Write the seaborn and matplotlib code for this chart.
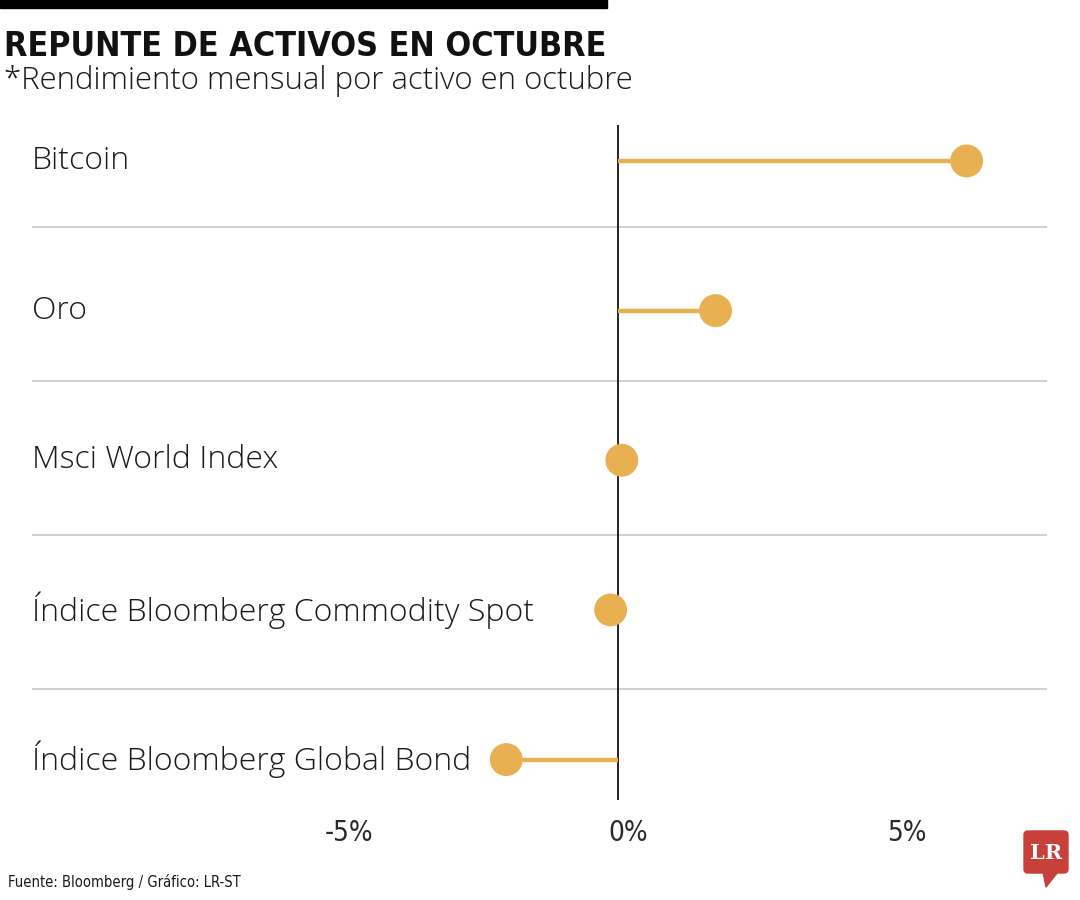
import numpy as np
import matplotlib.pyplot as plt
import matplotlib.patches as mpatches
import matplotlib.transforms as mtransforms
import pandas as pd
import seaborn as sns

# Data (monthly return in October, %)
activos = ['Bitcoin', 'Oro', 'Msci World Index',
           'Índice Bloomberg Commodity Spot', 'Índice Bloomberg Global Bond']
rendimiento = [6.25, 1.75, 0.07, -0.13, -2.0]
ticks = [-5, 0, 5]
tick_labels = ['-5%', '0%', '5%']

df = pd.DataFrame({'activo': activos, 'valor': rendimiento})
df['pos'] = np.arange(len(df))

gold = '#E8B050'
sns.set_theme(style='white')
plt.rcParams['font.family'] = ['Open Sans', 'DejaVu Sans']
cond = dict(family=['DejaVu Sans'], fontstretch='condensed')

fig = plt.figure(figsize=(10.8, 9), dpi=100)
ax = fig.add_axes([32/1080, 1 - 800/900, 1015/1080, 675/900])

# stems from zero
ax.hlines(df['pos'], 0, df['valor'], color=gold, lw=3.2, zorder=2)
sns.scatterplot(data=df, x='valor', y='pos', ax=ax, s=560, color=gold,
                edgecolor='none', zorder=3, legend=False)

ax.axvline(0, color='black', lw=1.2, zorder=1)
for i in range(len(activos) - 1):
    ax.axhline(0.44 + 1.03 * i, color='#c8c8c8', lw=1.2, zorder=0)

ax.set_xlim(-10.5, 7.69)
ax.set_ylim(4.27, -0.24)

# row labels
for p, name in zip(df['pos'], df['activo']):
    ax.text(0, p, name, transform=ax.get_yaxis_transform(), ha='left',
            va='center', fontsize=23, color='#1a1a1a', fontweight='light')

# x tick labels (drawn as text, nudged right like the original)
ax.set_xticks(ticks)
ax.set_xticklabels([])
ax.tick_params(axis='x', length=0)
off = mtransforms.ScaledTranslation(10/100, 0, fig.dpi_scale_trans)
for t, lab in zip(ticks, tick_labels):
    ax.text(t, -33/675, lab, transform=ax.get_xaxis_transform() + off,
            ha='center', va='center', fontsize=20, color='#2a2a2a', **cond)
ax.set_yticks([])
ax.set_xlabel('')
ax.set_ylabel('')
sns.despine(ax=ax, left=True, bottom=True)

# header
fig.add_artist(mpatches.Rectangle((0, 1 - 8/900), 607/1080, 8/900,
                                  transform=fig.transFigure, color='black'))
fig.text(4/1080, 1 - 47/900, 'REPUNTE DE ACTIVOS EN OCTUBRE', fontsize=24.4,
         fontweight='bold', va='center', ha='left', color='#111111', **cond)
fig.text(4/1080, 1 - 81/900, '*Rendimiento mensual por activo en octubre',
         fontsize=22.4, va='center', ha='left', color='#1a1a1a', fontweight='light')

# footer
fig.text(8/1080, 1 - 882/900, 'Fuente: Bloomberg / Gráfico: LR-ST', fontsize=10.6,
         va='center', ha='left', color='#1a1a1a', **cond)

# LR logo
red = '#C8403A'
fig.add_artist(mpatches.FancyBboxPatch((1024/1080, 1 - 873/900), 44/1080, 42/900,
                                       boxstyle='round,pad=0,rounding_size=0.004',
                                       transform=fig.transFigure, color=red))
fig.add_artist(mpatches.Polygon([(1043/1080, 1 - 872/900), (1058/1080, 1 - 872/900),
                                 (1046/1080, 1 - 887/900)],
                                transform=fig.transFigure, color=red))
fig.text(1046/1080, 1 - 853/900, 'LR', fontsize=15, fontweight='bold', color='white',
         ha='center', va='center', family=['DejaVu Serif'])

fig.savefig('out.png', dpi=100)
